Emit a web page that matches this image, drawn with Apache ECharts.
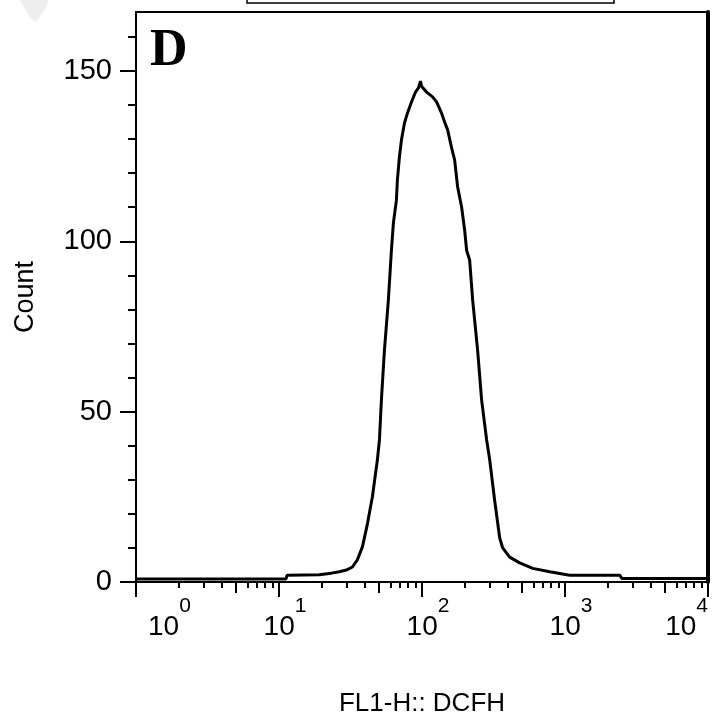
<!DOCTYPE html>
<html>
<head>
<meta charset="utf-8">
<script src="https://cdn.jsdelivr.net/npm/echarts@6/dist/echarts.min.js"></script>
<style>html,body{margin:0;padding:0;background:#fff}#c{width:728px;height:716px}</style>
</head>
<body>
<div id="c"></div>
<script>
// Fluorescence intensity (FL1-H, DCFH) and event counts
var fluor = [1, 11.2, 11.4, 19.1, 23.2, 26.4, 29.6, 32.6, 35.3, 38.3, 41.5, 45.0, 48.8, 50.4, 52.0, 54.6, 58.2, 61.1, 63.1, 66.2, 67.3, 69.5, 71.8, 75.4, 79.1, 84.4, 90.0, 94.5, 97.6, 99.2, 102.4, 107.6, 118.5, 126.4, 137.0, 143.9, 151.1, 161.1, 169.1, 177.4, 189.3, 198.7, 205.2, 215.4, 226.0, 244.9, 261.2, 283.1, 297.2, 322.1, 349.2, 366.4, 410.3, 482.0, 594.5, 781.6, 1079, 2421, 2500, 10000];
var counts = [0.9, 0.9, 2.0, 2.1, 2.6, 3.0, 3.5, 4.4, 6.5, 10.3, 17, 25, 36, 41.7, 53.4, 68, 82.8, 97.3, 105.4, 112, 118, 124.7, 129.7, 134.7, 137.6, 140.9, 143.8, 145, 147, 145.5, 145.5, 143.8, 142.4, 140.9, 137.6, 135, 132.7, 127.4, 123.9, 116, 110, 103.3, 97.3, 94.5, 82.8, 68, 53.4, 41.7, 36, 24, 13, 10, 7.3, 5.6, 4, 3, 2, 2, 1, 1];

// Tick values
var xMajorTicks = [1, 10, 100, 1000, 10000];
var xMidTicks = [5, 50, 500, 5000];
var xMinorTicks = [2, 3, 4, 6, 7, 8, 9, 20, 30, 40, 60, 70, 80, 90, 200, 300, 400, 600, 700, 800, 900, 2000, 3000, 4000, 6000, 7000, 8000, 9000];
var yMajorTicks = [0, 50, 100, 150];
var yMinorTicks = [0, 10, 20, 30, 40, 50, 60, 70, 80, 90, 100, 110, 120, 130, 140, 150, 160];

var xMin = 1, xMax = 10000, yMin = 0, yMax = 167.3;
var xName = 'FL1-H:: DCFH';
var yName = 'Count';
var panelLabel = 'D';

var FONT = '"Liberation Sans", Arial, sans-serif';
var seriesData = fluor.map(function (v, i) { return [v, counts[i]]; });

function xAxisBase(extra) {
  var a = {
    type: 'log', logBase: 10, min: xMin, max: xMax, position: 'bottom',
    axisLine: { show: false }, splitLine: { show: false }, minorTick: { show: false },
    axisLabel: { show: false }, axisTick: { show: false }
  };
  for (var k in extra) a[k] = extra[k];
  return a;
}
function yAxisBase(extra) {
  var a = {
    type: 'value', min: yMin, max: yMax, position: 'left',
    axisLine: { show: false }, splitLine: { show: false },
    axisLabel: { show: false }, axisTick: { show: false }
  };
  for (var k in extra) a[k] = extra[k];
  return a;
}

var chart = echarts.init(document.getElementById('c'), null, { renderer: 'canvas' });
chart.setOption({
  backgroundColor: '#fff',
  animation: false,
  grid: { left: 136, right: 20, top: 12, bottom: 134, containLabel: false, outerBoundsMode: 'none', show: true, borderColor: '#000', borderWidth: 2, backgroundColor: 'transparent' },
  xAxis: [
    xAxisBase({
      axisLine: { show: true, lineStyle: { color: '#000', width: 2 } },
      axisTick: { show: true, customValues: xMajorTicks, length: 15, lineStyle: { color: '#000', width: 2 } },
      axisLabel: {
        show: true, customValues: xMajorTicks, margin: 14, color: '#000',
        alignMinLabel: 'left', alignMaxLabel: 'right',
        formatter: function (v) { return '{b|10}{s|' + Math.round(Math.log10(v)) + '}'; },
        rich: {
          b: { fontFamily: FONT, fontSize: 28, lineHeight: 28, padding: [34, 0, 0, 12], color: '#000' },
          s: { fontFamily: FONT, fontSize: 21, lineHeight: 21, verticalAlign: 'top', color: '#000' }
        }
      },
      name: xName, nameLocation: 'middle', nameGap: 109,
      nameTextStyle: { fontFamily: FONT, fontSize: 26, color: '#000' }
    }),
    xAxisBase({ axisTick: { show: true, customValues: xMidTicks, length: 11, lineStyle: { color: '#000', width: 2 } } }),
    xAxisBase({ axisTick: { show: true, customValues: xMinorTicks, length: 6, lineStyle: { color: '#000', width: 2 } } })
  ],
  yAxis: [
    yAxisBase({
      axisLine: { show: true, lineStyle: { color: '#000', width: 2 } },
      axisTick: { show: true, customValues: yMajorTicks, length: 16, lineStyle: { color: '#000', width: 2 } },
      axisLabel: { show: true, customValues: yMajorTicks, margin: 24, fontFamily: FONT, fontSize: 29, color: '#000' },
      name: yName, nameLocation: 'middle', nameGap: 97, nameRotate: 90,
      nameTextStyle: { fontFamily: FONT, fontSize: 27, color: '#000' }
    }),
    yAxisBase({ axisTick: { show: true, customValues: yMinorTicks, length: 8, lineStyle: { color: '#000', width: 2 } } }),
    yAxisBase({ position: 'right', axisLine: { show: true, lineStyle: { color: '#000', width: 4 } } })
  ],
  series: [{
    type: 'line', xAxisIndex: 0, yAxisIndex: 0, data: seriesData,
    symbol: 'none', smooth: false,
    lineStyle: { color: '#000', width: 3 }
  }],
  graphic: [
    { type: 'polygon', shape: { points: [[20, 0], [48, 0], [46, 8], [36, 22], [30, 18]] }, style: { fill: '#eeeeee' }, silent: true },
    { type: 'rect', shape: { x: 247, y: -10, width: 367, height: 13 }, style: { fill: 'none', stroke: '#000', lineWidth: 1.5 } },
    { type: 'text', left: 150, top: 26, style: { text: panelLabel, font: 'bold 52px "Liberation Serif", "Times New Roman", serif', fill: '#000' } }
  ]
});
</script>
</body>
</html>
